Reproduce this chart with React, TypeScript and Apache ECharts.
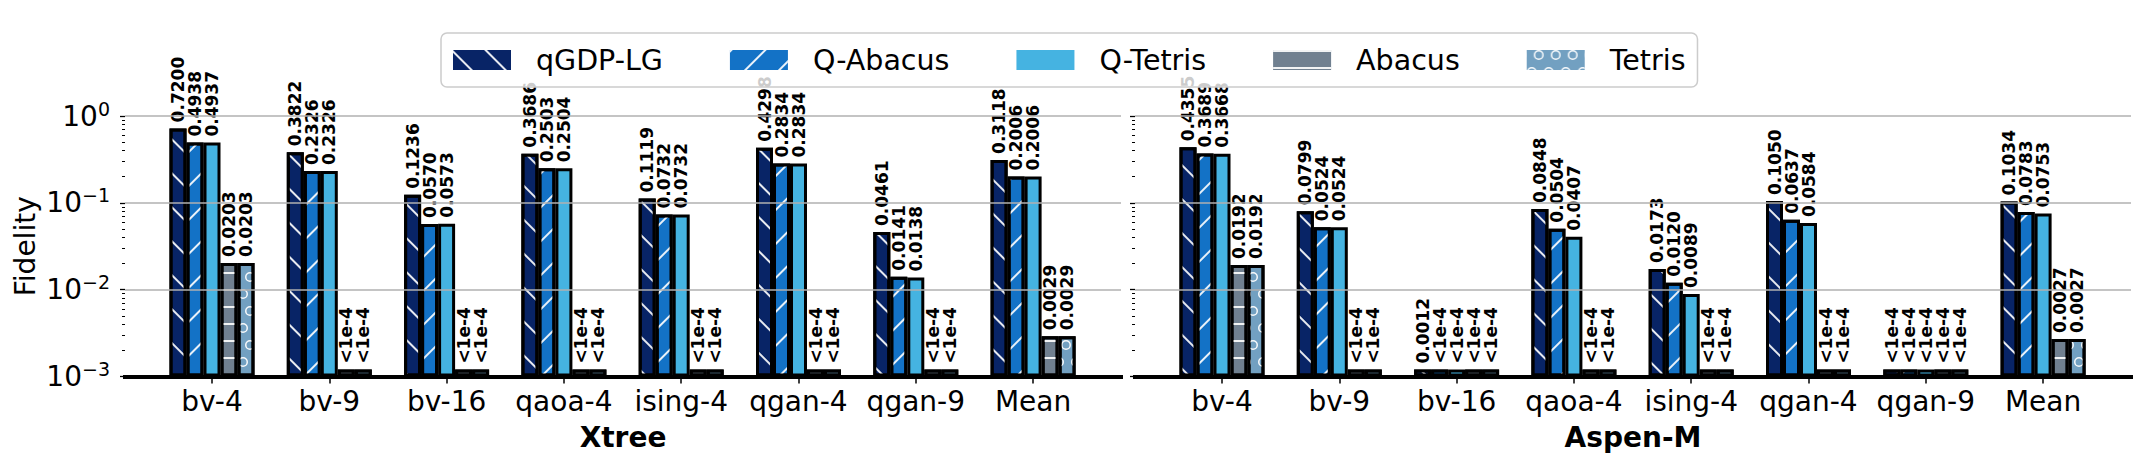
import React, { useEffect, useRef } from 'react';
import * as echarts from 'echarts';

const CATEGORIES = ['bv-4', 'bv-9', 'bv-16', 'qaoa-4', 'ising-4', 'qgan-4', 'qgan-9', 'Mean'];
const METHODS = ['qGDP-LG', 'Q-Abacus', 'Q-Tetris', 'Abacus', 'Tetris'];
const PANELS = ['Xtree', 'Aspen-M'];

// null = fidelity below 1e-4 (annotated "<1e-4")
const XTREE_QGDP = [0.72, 0.3822, 0.1236, 0.3686, 0.1119, 0.4298, 0.0461, 0.3118];
const XTREE_QABACUS = [0.4938, 0.2326, 0.057, 0.2503, 0.0732, 0.2834, 0.0141, 0.2006];
const XTREE_QTETRIS = [0.4937, 0.2326, 0.0573, 0.2504, 0.0732, 0.2834, 0.0138, 0.2006];
const XTREE_ABACUS = [0.0203, null, null, null, null, null, null, 0.0029];
const XTREE_TETRIS = [0.0203, null, null, null, null, null, null, 0.0029];

const ASPEN_QGDP = [0.4355, 0.0799, 0.0012, 0.0848, 0.0173, 0.105, null, 0.1034];
const ASPEN_QABACUS = [0.3689, 0.0524, null, 0.0504, 0.012, 0.0637, null, 0.0783];
const ASPEN_QTETRIS = [0.3668, 0.0524, null, 0.0407, 0.0089, 0.0584, null, 0.0753];
const ASPEN_ABACUS = [0.0192, null, null, null, null, null, null, 0.0027];
const ASPEN_TETRIS = [0.0192, null, null, null, null, null, null, 0.0027];

const PANEL_DATA = [
  [XTREE_QGDP, XTREE_QABACUS, XTREE_QTETRIS, XTREE_ABACUS, XTREE_TETRIS],
  [ASPEN_QGDP, ASPEN_QABACUS, ASPEN_QTETRIS, ASPEN_ABACUS, ASPEN_TETRIS],
];

const BELOW_BAR = 0.0012; // bar height drawn for "<1e-4" entries
const Y_MIN = 0.001;
const Y_MAX = 1;

const COLORS = ['#082466', '#1372c6', '#45b3e1', '#708090', '#72a0c1'];
const FONT = 'DejaVu Sans';

const RING =
  'path://M0,10A10,10,0,1,1,20,10A10,10,0,1,1,0,10ZM3,10A7,7,0,1,0,17,10A7,7,0,1,0,3,10Z';

const DECALS: any[] = [
  { symbol: 'rect', symbolSize: 1, color: 'rgba(255,255,255,0.9)', dashArrayX: [1, 0], dashArrayY: [2, 22], rotation: Math.PI / 4 },
  { symbol: 'rect', symbolSize: 1, color: 'rgba(255,255,255,0.9)', dashArrayX: [1, 0], dashArrayY: [2, 22], rotation: -Math.PI / 4 },
  undefined,
  { symbol: 'rect', symbolSize: 1, color: 'rgba(255,255,255,0.9)', dashArrayX: [1, 0], dashArrayY: [2, 15], rotation: 0 },
  { symbol: RING, symbolSize: 1, color: 'rgba(255,255,255,0.95)', dashArrayX: [[10, 7], [0, 7, 10, 0]], dashArrayY: [10, 7], rotation: 0 },
];

const GRID_TOP = 116;
const GRID_H = 260.5;
const FRAME_LEFT = [125, 1135];
const FRAME_W = 996;
const BAR_LEFT = [153.35, 1163.35];
const BAR_W = 938.4;

function expLabel(v: number) {
  const e = Math.round(Math.log10(v));
  const s = e < 0 ? '\u2212' + -e : String(e);
  return `{b|10}{e|${s}}`;
}

function buildOption() {
  const grid: any[] = [];
  const xAxis: any[] = [];
  const yAxis: any[] = [];
  const series: any[] = [];

  PANELS.forEach((panel, p) => {
    grid.push({ left: FRAME_LEFT[p], top: GRID_TOP, width: FRAME_W, height: GRID_H, containLabel: false });
    grid.push({ left: BAR_LEFT[p], top: GRID_TOP, width: BAR_W, height: GRID_H, containLabel: false });
    const gA = p * 2;
    const gB = p * 2 + 1;

    xAxis.push({
      type: 'value', gridIndex: gA, min: 0, max: 1, z: 3,
      axisLine: { show: true, lineStyle: { color: '#000', width: 4, cap: 'square' } },
      axisTick: { show: false }, axisLabel: { show: false }, splitLine: { show: false },
      name: panel, nameLocation: 'middle', nameGap: 47,
      nameTextStyle: { fontFamily: FONT, fontSize: 28, fontWeight: 'bold', color: '#000' },
    });
    xAxis.push({
      type: 'category', gridIndex: gB, data: CATEGORIES,
      axisLine: { show: false },
      axisTick: { show: true, alignWithLabel: true, length: 7, lineStyle: { color: '#000', width: 1.5 } },
      axisLabel: { show: true, interval: 0, margin: 11, fontFamily: FONT, fontSize: 28, color: '#000' },
      splitLine: { show: false },
    });

    yAxis.push({
      type: 'log', gridIndex: gA, min: Y_MIN, max: Y_MAX, logBase: 10, z: 3,
      axisLine: { show: false },
      axisTick: { show: true, length: 5, lineStyle: { color: '#000', width: 1.3 } },
      minorTick: { show: true, splitNumber: 9, length: 3, lineStyle: { color: '#000', width: 1 } },
      splitLine: { show: true, lineStyle: { color: '#b0b0b0', width: 1.5 } },
      axisLabel: {
        show: p === 0, margin: 15, color: '#000', formatter: expLabel,
        rich: {
          b: { fontFamily: FONT, fontSize: 28, lineHeight: 34, color: '#000' },
          e: { fontFamily: FONT, fontSize: 19, lineHeight: 19, verticalAlign: 'top', color: '#000' },
        },
      },
      name: p === 0 ? 'Fidelity' : '', nameLocation: 'middle', nameGap: 86,
      nameTextStyle: { fontFamily: FONT, fontSize: 28, color: '#000' },
    });
    yAxis.push({
      type: 'log', gridIndex: gB, min: Y_MIN, max: Y_MAX, logBase: 10, show: false, startValue: Y_MIN,
    });

    METHODS.forEach((m, i) => {
      const raw = PANEL_DATA[p][i];
      series.push({
        type: 'bar', name: m, xAxisIndex: gB, yAxisIndex: gB,
        data: raw.map((v) => (v === null ? BELOW_BAR : v)),
        barWidth: 17, barGap: '0%',
        itemStyle: { color: COLORS[i], borderColor: '#000', borderWidth: 3, decal: DECALS[i] },
        label: {
          show: true, position: 'top', rotate: 90, align: 'left', verticalAlign: 'middle', distance: 6,
          fontFamily: FONT, fontSize: 17, fontWeight: 'bold', color: '#000',
          formatter: (prm: any) => {
            const v = raw[prm.dataIndex];
            return v === null ? '<1e-4' : v.toFixed(4);
          },
        },
        emphasis: { disabled: true },
      });
    });
  });

  return {
    animation: false,
    backgroundColor: '#fff',
    textStyle: { fontFamily: FONT },
    grid, xAxis, yAxis, series,
    legend: {
      data: METHODS, left: 441, top: 33, orient: 'horizontal', icon: 'rect',
      itemWidth: 58, itemHeight: 20, itemGap: 67, padding: [11, 12],
      backgroundColor: 'rgba(255,255,255,0.8)', borderColor: '#cccccc', borderWidth: 1.5, borderRadius: 6,
      textStyle: { fontFamily: FONT, fontSize: 28.5, color: '#000', padding: [0, 0, 0, 20], lineHeight: 32 },
      itemStyle: { borderWidth: 0 },
      selectedMode: false,
    },
  };
}

export default function App() {
  const ref = useRef<HTMLDivElement>(null);
  useEffect(() => {
    const chart = echarts.init(ref.current!, null, { renderer: 'svg' });
    chart.setOption(buildOption() as any);
    return () => chart.dispose();
  }, []);
  return (
    <div
      ref={ref}
      style={{ position: 'fixed', left: 0, top: 0, width: 2156, height: 476, background: '#fff' }}
    />
  );
}
